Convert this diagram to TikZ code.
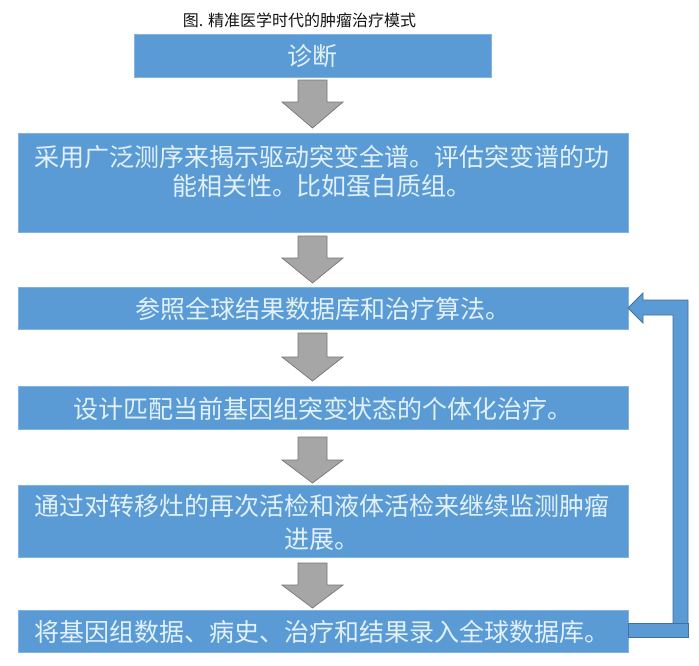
\documentclass[tikz,border=0pt]{standalone}
\usepackage{fontspec}
\setmainfont{Noto Sans CJK SC}
\usetikzlibrary{calc}
\definecolor{boxblue}{RGB}{91,155,213}
\definecolor{boxedge}{RGB}{130,180,225}
\definecolor{boxtext}{RGB}{226,241,248}
\definecolor{arrfill}{RGB}{166,166,166}
\definecolor{arredge}{RGB}{118,118,118}
\definecolor{fbedge}{RGB}{65,113,156}
\definecolor{titlecol}{RGB}{20,20,20}
\newcommand\grayarrow[3]{%
  \draw[grayarr] (298,#1) -- (327,#1) -- (327,#2) -- (343,#2) -- (312.5,#3) -- (282,#2) -- (298,#2) -- cycle;}
\begin{document}
\begin{tikzpicture}[x=1pt,y=-1pt,
  box/.style={fill=boxblue,draw=boxedge,line width=0.6pt,inner sep=0pt,outer sep=0pt},
  btext/.style={text=boxtext,font=\fontsize{25pt}{29pt}\selectfont,align=center,inner sep=0pt},
  grayarr/.style={fill=arrfill,draw=arredge,line width=0.7pt,line join=miter},
  fbarrow/.style={fill=boxblue,draw=fbedge,line width=0.8pt,line join=miter},
  titlestyle/.style={text=titlecol,font=\fontsize{16pt}{19pt}\selectfont,inner sep=0pt}]
\useasboundingbox (0,0) rectangle (699,665);
\fill[white] (0,0) rectangle (699,665);

\node[titlestyle] (title) at (299.5,20) {图. 精准医学时代的肿瘤治疗模式};

\node[box,minimum width=357,minimum height=43] (b1) at (312.5,55.5) {};
\node[box,minimum width=610,minimum height=99] (b2) at (323,182.5) {};
\node[box,minimum width=610,minimum height=42] (b3) at (323,308) {};
\node[box,minimum width=610,minimum height=43] (b4) at (323,407.5) {};
\node[box,minimum width=610,minimum height=72] (b5) at (323,521) {};
\node[box,minimum width=610,minimum height=42] (b6) at (323,631) {};

\node[btext] (t1) at (312.5,56) {诊断};
\node[btext] (t2) at (322,171.5) {采用广泛测序来揭示驱动突变全谱。评估突变谱的功\\能相关性。比如蛋白质组。};
\node[btext] (t3) at (323,309) {参照全球结果数据库和治疗算法。};
\node[btext] (t4) at (323,409) {设计匹配当前基因组突变状态的个体化治疗。};
\node[btext,font=\fontsize{25pt}{33pt}\selectfont] (t5) at (322,522) {通过对转移灶的再次活检和液体活检来继续监测肿瘤\\进展。};
\node[btext] (t6) at (322,632) {将基因组数据、病史、治疗和结果录入全球数据库。};

\grayarrow{80}{102}{128}
\grayarrow{236}{258}{283}
\grayarrow{333}{357}{381}
\grayarrow{437}{460}{483}
\grayarrow{563}{585}{608}

\draw[fbarrow] (b3.east) -- ($(b3.east)+(15,-15)$) -- ($(b3.east)+(15,-8)$) -- ($(b3.east)+(60,-8)$)
  -- ($(b6.east)+(60,6)$) -- ($(b6.east)+(45,6)$) -- ($(b3.east)+(45,7)$) -- ($(b3.east)+(15,7)$)
  -- ($(b3.east)+(15,15)$) -- cycle;
\draw[fbarrow] ($(b6.east)+(0,-8)$) rectangle ($(b6.east)+(60,6)$);
\end{tikzpicture}
\end{document}
